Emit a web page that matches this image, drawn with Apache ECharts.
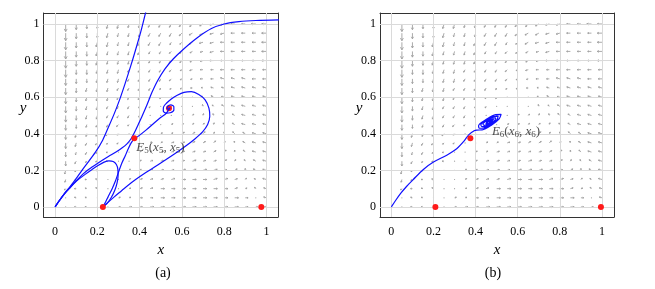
<!DOCTYPE html>
<html><head><meta charset="utf-8">
<script src="https://cdn.jsdelivr.net/npm/echarts@6/dist/echarts.min.js"></script>
<style>html,body{margin:0;padding:0;background:#fff}#c{width:655px;height:289px}</style>
</head><body><div id="c"></div>
<script>
// ---------- data ----------
const ticks = [0, 0.2, 0.4, 0.6, 0.8, 1];
const tickLabels = ['0', '0.2', '0.4', '0.6', '0.8', '1'];

// vector-field grid: columns x, rows y (top to bottom)
const arrowX = [0.05,0.10,0.15,0.20,0.25,0.30,0.35,0.40,0.45,0.50,0.55,0.60,0.65,0.70,0.75,0.80,0.85,0.90,0.95,1.00];
const arrowY = [1.00,0.95,0.90,0.85,0.80,0.75,0.70,0.65,0.60,0.55,0.50,0.45,0.40,0.35,0.30,0.25,0.20,0.15,0.10,0.05,0.00];
// direction code per cell: 'a'=0deg, each next letter +15deg (s = straight down, m = left), '.' = dot
const arrowDirA = [
  "ssssssssssssssssrrpmm","ssssssssssssrrrqpomlm","sssssssrrrrrrqqpnmllm","ssrrrrrrrrrqqppnmlkkm",
  "rrrrrrrrrqqqppnmkjhfa","rrrrrrrqqqqppomjgedba","rrrrrqqqqqqpomfedcbba","rrqqqqqqqqqq.dcccbbaa",
  "qqqqqqqqqqqacccbbbbaa","qqqqqqqqqqacccbbbbaaa","qqqpppppp.cccbbbbbaaa","pppppooomedccbbbbaaaa",
  "poooonnmkfddccbbbaaaa","oonnnmmlkhfddcbbbaaaa","nnnnmmmlkjhfedcbbbaaa","nnmmmmlllkjigedcbbaaa",
  "mmmmmmllllkkjhgecbbaa","mmmmmmllllllkkjigdbaa","mmmmmmmllllllllkkkjea","mmmmmmmlllllllllllllm"
];
// arrow length (px) per cell
const arrowLenA = [
  "888888777776665543211","666665555554443322222","555555444443333222222","555554444443332222211",
  "555444444333322211111","544444433333221111122","444443333332111122223","444443333221112223333",
  "444333332211122333334","444333322111223333444","443333321112233334444","443332221122333344444",
  "444333221122333444444","444333322222333344444","444443333222233344444","444444433332223334444",
  "444444444433322233344","444444444444333222233","544444444444444332212","555554444444444444332"
];
const arrowDirB = [
  "ssssssssssssssssrrpmm","ssssssssssssrrrqpomlm","sssssssrrrrrrqqpnmllm","ssrrrrrrrrrqqppnmlkkm",
  "rrrrrrrrrqqqppnmkjhfa","rrrrrrrqqqqppomjgedba","rrrrrqqqqqqpomfedcbba","rrqqqqqqqqqq.dcccbbaa",
  "qqqqqqqqqqq.cccbbbbaa","qqqqqqqqqpfcccbbbbaaa","qqqpppppoldccbbbbbaaa","pppppooomedccbbbbaaaa",
  "poooonnmkfddccbbbaaaa","oonnnmmlkhfddcbbbaaaa","nnnnmmmlkjhfedcbbbaaa","nnmmmmlllkjigedcbbaaa",
  "mmmmmmllllkkjhgecbbaa","mmmmmmllllllkkjigdbaa","mmmmmmmllllllllkkkjea","mmmmmmmlllllllllllllm"
];
const arrowLenB = [
  "888888777776665543211","666665555554443322222","555555444443333222222","555554444443332222211",
  "555444444333322211111","544444433333221111122","444443333332111122223","444443333221112223333",
  "444333332211122333334","444333322111223333444","443333321112233334444","443332221122333344444",
  "444333221122333444444","444333322222333344444","444443333222233344444","444444433332223334444",
  "444444444433322233344","444444444444333222233","544444444444444332212","555554444444444444332"
];

// trajectories, panel (a)
const curveA1 = [[0,0],[0.02,0.035],[0.043,0.072],[0.07,0.11],[0.095,0.148],[0.14,0.22],[0.19,0.298],[0.225,0.365],[0.252,0.435],[0.28,0.51],[0.305,0.585],[0.33,0.67],[0.355,0.76],[0.38,0.855],[0.405,0.955],[0.43,1.07]];
const curveA2 = [[0,0],[0.02,0.034],[0.043,0.07],[0.07,0.105],[0.1,0.142],[0.13,0.178],[0.158,0.205],[0.2,0.238],[0.252,0.276],[0.29,0.302],[0.316,0.322],[0.34,0.345],[0.358,0.37],[0.375,0.405],[0.394,0.452],[0.413,0.5],[0.434,0.556],[0.458,0.625],[0.485,0.69],[0.52,0.755],[0.56,0.81],[0.61,0.865],[0.673,0.925],[0.74,0.975],[0.80,1.0],[0.87,1.013],[0.95,1.019],[1.06,1.022]];
const curveA3 = [[0,0],[0.02,0.034],[0.043,0.07],[0.07,0.105],[0.1,0.14],[0.142,0.178],[0.175,0.205],[0.205,0.228],[0.232,0.245],[0.255,0.252],[0.275,0.248],[0.29,0.232],[0.297,0.205],[0.298,0.17],[0.293,0.13],[0.282,0.09],[0.265,0.05],[0.245,0.018],[0.226,0]];
const curveA4 = [[0.226,0],[0.24,0.03],[0.255,0.065],[0.27,0.1],[0.285,0.14],[0.30,0.19],[0.316,0.24],[0.332,0.28],[0.345,0.315],[0.36,0.35],[0.375,0.372],[0.394,0.387],[0.43,0.42],[0.465,0.455],[0.495,0.485],[0.52,0.505],[0.533,0.522],[0.539,0.539]];
const curveA5 = [[0.226,0],[0.25,0.025],[0.28,0.055],[0.316,0.09],[0.37,0.14],[0.426,0.185],[0.50,0.24],[0.568,0.292],[0.615,0.33],[0.66,0.37],[0.698,0.41],[0.722,0.45],[0.732,0.495],[0.728,0.54],[0.71,0.585],[0.68,0.615],[0.645,0.63],[0.61,0.626],[0.578,0.61],[0.55,0.59],[0.528,0.568],[0.513,0.546],[0.512,0.525],[0.525,0.513],[0.545,0.515],[0.562,0.53],[0.562,0.548],[0.548,0.558],[0.532,0.55],[0.53,0.537],[0.539,0.534],[0.544,0.541],[0.539,0.539]];
// trajectory, panel (b)
const curveB1 = [[0,0],[0.02,0.035],[0.045,0.075],[0.073,0.113],[0.104,0.15],[0.152,0.205],[0.2,0.245],[0.263,0.283],[0.31,0.318],[0.345,0.36],[0.368,0.395],[0.393,0.416],
  [0.405,0.42],[0.431,0.421],[0.475,0.447],[0.512,0.482],[0.521,0.506],[0.495,0.505],[0.451,0.479],[0.414,0.444],
  [0.419,0.43],[0.439,0.431],[0.473,0.45],[0.501,0.477],[0.507,0.496],[0.487,0.495],[0.453,0.476],[0.425,0.449],
  [0.431,0.439],[0.446,0.439],[0.471,0.453],[0.491,0.473],[0.495,0.487],[0.48,0.487],[0.455,0.473],[0.435,0.453],
  [0.441,0.446],[0.469,0.455],[0.485,0.48],[0.457,0.471],[0.449,0.452],[0.467,0.457],[0.477,0.474],[0.459,0.469],
  [0.455,0.457],[0.465,0.459],[0.471,0.469],[0.461,0.467],[0.463,0.463]];

// equilibria
const eqA = [[0.226,0],[0.375,0.375],[0.976,0]];
const focusA = [[0.539,0.539]];
const eqB = [[0.209,0],[0.375,0.375],[0.995,0]];
const labelPointA = [0.375,0.375];
const labelPointB = [0.463,0.463];
const labelTextA = '{i|E}{s|5}{n|(}{i|x}{s|5}{n|, }{i|x}{s|5}{n|)}';
const labelTextB = '{i|E}{s|6}{n|(}{i|x}{s|6}{n|, }{i|x}{s|6}{n|)}';

// ---------- styles ----------
const SERIF = 'Liberation Serif';
const ARROW_COLOR = '#a0a0a0';
const BLUE = '#1010ff';
const RED = '#ff1a1a';
const ARROW_SCALE = 0.95;

function buildArrows(dirCols, lenCols) {
  const out = [];
  for (let i = 0; i < arrowX.length; i++) {
    for (let j = 0; j < arrowY.length; j++) {
      const c = dirCols[i][j];
      const L = +lenCols[i][j];
      const ang = c === '.' ? 0 : (c.charCodeAt(0) - 97) * 15;
      out.push([arrowX[i], arrowY[j], ang, c === '.' ? 0.5 : L]);
    }
  }
  return out;
}

function renderArrow(params, api) {
  const p = api.coord([api.value(0), api.value(1)]);
  const a = api.value(2) * Math.PI / 180;
  const L = api.value(3) * ARROW_SCALE;
  if (L < 1.2) {
    return {type: 'circle', shape: {cx: p[0], cy: p[1], r: 0.6}, style: {fill: ARROW_COLOR}};
  }
  const ux = Math.cos(a), uy = -Math.sin(a);
  const tip = [p[0] + ux * L, p[1] + uy * L];
  const h = Math.max(1.3, L * 0.4);
  const ca = Math.cos(0.5), sa = Math.sin(0.5);
  const bx = -ux, by = -uy;
  const h1 = [tip[0] + h * (bx * ca - by * sa), tip[1] + h * (bx * sa + by * ca)];
  const h2 = [tip[0] + h * (bx * ca + by * sa), tip[1] + h * (-bx * sa + by * ca)];
  const style = {stroke: ARROW_COLOR, lineWidth: 0.9, fill: null};
  return {type: 'group', children: [
    {type: 'polyline', shape: {points: [p, tip]}, style: style},
    {type: 'polyline', shape: {points: [h1, tip, h2]}, style: style}
  ]};
}

const gridLineMark = {
  silent: true, symbol: ['none', 'none'], label: {show: false},
  lineStyle: {color: '#dadada', width: 1, type: 'solid'},
  emphasis: {disabled: true},
  data: ticks.map(v => ({xAxis: v})).concat(ticks.map(v => ({yAxis: v})))
};

function axisBase(extra, margin) {
  return Object.assign({
    type: 'value',
    axisLine: {show: true, onZero: false, lineStyle: {color: '#333', width: 1}},
    axisTick: {show: true, inside: true, length: 3, customValues: ticks, lineStyle: {color: '#333'}},
    axisLabel: {show: true, customValues: ticks, color: '#000', fontFamily: SERIF, fontSize: 12, margin: margin,
      formatter: v => tickLabels[ticks.indexOf(v)] ?? ''},
    splitLine: {show: false}
  }, extra);
}
const nameStyle = {fontFamily: SERIF, fontStyle: 'italic', fontSize: 15, color: '#000'};

const xRangeA = {min: -0.055, max: 1.055};
const xRangeB = {min: -0.054, max: 1.057};
const yRange = {min: -0.055, max: 1.06};

function lineSeries(data, xi, yi) {
  return {type: 'line', xAxisIndex: xi, yAxisIndex: yi, data: data, showSymbol: false, symbol: 'none',
    smooth: 0.3, lineStyle: {color: BLUE, width: 1.2}, z: 5, silent: true, clip: true};
}
function dotSeries(data, xi, yi, z) {
  return {type: 'scatter', xAxisIndex: xi, yAxisIndex: yi, data: data, symbolSize: 6,
    itemStyle: {color: RED, opacity: 1}, z: z, silent: true};
}

const richLabel = {
  i: {fontFamily: SERIF, fontStyle: 'italic', fontSize: 13, color: '#222', lineHeight: 16, verticalAlign: 'middle'},
  n: {fontFamily: SERIF, fontSize: 13, color: '#222', lineHeight: 16, verticalAlign: 'middle'},
  s: {fontFamily: SERIF, fontSize: 9, color: '#222', lineHeight: 9, verticalAlign: 'bottom'}
};

const chart = echarts.init(document.getElementById('c'), null, {renderer: 'canvas'});
chart.setOption({
  animation: false,
  backgroundColor: '#fff',
  grid: [
    {left: 43.5, top: 13, width: 234.5, height: 204},
    {left: 380, top: 13, width: 234, height: 204}
  ],
  xAxis: [
    axisBase(Object.assign({gridIndex: 0, position: 'bottom', name: 'x', nameLocation: 'middle', nameGap: 15, nameTextStyle: nameStyle}, xRangeA), 9),
    axisBase(Object.assign({gridIndex: 0, position: 'top', axisLabel: {show: false}}, xRangeA), 9),
    axisBase(Object.assign({gridIndex: 1, position: 'bottom', name: 'x', nameLocation: 'middle', nameGap: 15, nameTextStyle: nameStyle}, xRangeB), 9),
    axisBase(Object.assign({gridIndex: 1, position: 'top', axisLabel: {show: false}}, xRangeB), 9)
  ],
  yAxis: [
    axisBase(Object.assign({gridIndex: 0, position: 'left'}, yRange), 4),
    axisBase(Object.assign({gridIndex: 0, position: 'right', axisLabel: {show: false}}, yRange), 4),
    axisBase(Object.assign({gridIndex: 1, position: 'left'}, yRange), 4),
    axisBase(Object.assign({gridIndex: 1, position: 'right', axisLabel: {show: false}}, yRange), 4)
  ],
  graphic: [
    {type: 'text', x: 23, y: 108, style: {text: 'y', font: 'italic 15px "Liberation Serif"', fill: '#000', align: 'center', verticalAlign: 'middle'}},
    {type: 'text', x: 359, y: 108, style: {text: 'y', font: 'italic 15px "Liberation Serif"', fill: '#000', align: 'center', verticalAlign: 'middle'}},
    {type: 'text', x: 163, y: 273, style: {text: '(a)', font: '14px "Liberation Serif"', fill: '#000', align: 'center', verticalAlign: 'middle'}},
    {type: 'text', x: 493, y: 273, style: {text: '(b)', font: '14px "Liberation Serif"', fill: '#000', align: 'center', verticalAlign: 'middle'}}
  ],
  series: [
    {type: 'custom', xAxisIndex: 0, yAxisIndex: 0, coordinateSystem: 'cartesian2d', encode: {x: 0, y: 1},
      data: buildArrows(arrowDirA, arrowLenA), renderItem: renderArrow, z: 2, silent: true, markLine: gridLineMark},
    {type: 'custom', xAxisIndex: 2, yAxisIndex: 2, coordinateSystem: 'cartesian2d', encode: {x: 0, y: 1},
      data: buildArrows(arrowDirB, arrowLenB), renderItem: renderArrow, z: 2, silent: true, markLine: gridLineMark},
    dotSeries(focusA, 0, 0, 4),
    lineSeries(curveA1, 0, 0), lineSeries(curveA2, 0, 0), lineSeries(curveA3, 0, 0),
    lineSeries(curveA4, 0, 0), lineSeries(curveA5, 0, 0),
    lineSeries(curveB1, 2, 2),
    dotSeries(eqA, 0, 0, 6),
    dotSeries(eqB, 2, 2, 6),
    {type: 'scatter', xAxisIndex: 0, yAxisIndex: 0, symbolSize: 0, z: 7, silent: true,
      data: [{value: labelPointA, label: {show: true, position: [2, 9], align: 'left', verticalAlign: 'middle', formatter: labelTextA, rich: richLabel}}]},
    {type: 'scatter', xAxisIndex: 2, yAxisIndex: 2, symbolSize: 0, z: 7, silent: true,
      data: [{value: labelPointB, label: {show: true, position: [3, 9], align: 'left', verticalAlign: 'middle', formatter: labelTextB, rich: richLabel}}]}
  ]
});
</script></body></html>
